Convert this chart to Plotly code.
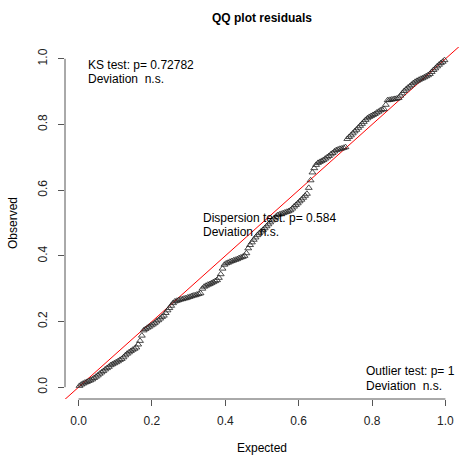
import numpy as np
import plotly.graph_objects as go

# Sorted scaled residuals (observed quantiles), 200 values
observed = [
    0.004, 0.008, 0.011, 0.014, 0.016, 0.019, 0.021, 0.024, 0.028, 0.032,
    0.036, 0.041, 0.045, 0.049, 0.054, 0.058, 0.062, 0.067, 0.070, 0.073,
    0.076, 0.079, 0.083, 0.086, 0.091, 0.097, 0.102, 0.106, 0.110, 0.114,
    0.117, 0.121, 0.130, 0.141, 0.157, 0.173, 0.177, 0.181, 0.184, 0.188,
    0.191, 0.195, 0.200, 0.204, 0.209, 0.214, 0.218, 0.226, 0.234, 0.241,
    0.248, 0.256, 0.261, 0.263, 0.265, 0.267, 0.268, 0.270, 0.271, 0.273,
    0.275, 0.277, 0.279, 0.280, 0.282, 0.284, 0.286, 0.300, 0.306, 0.309,
    0.312, 0.314, 0.317, 0.320, 0.323, 0.326, 0.333, 0.344, 0.361, 0.373,
    0.377, 0.379, 0.382, 0.384, 0.386, 0.388, 0.390, 0.393, 0.395, 0.397,
    0.400, 0.408, 0.423, 0.433, 0.441, 0.449, 0.456, 0.463, 0.469, 0.474,
    0.479, 0.484, 0.490, 0.496, 0.502, 0.508, 0.514, 0.519, 0.524, 0.526,
    0.528, 0.530, 0.532, 0.534, 0.536, 0.539, 0.544, 0.550, 0.555, 0.560,
    0.566, 0.571, 0.577, 0.583, 0.589, 0.607, 0.630, 0.654, 0.667, 0.677,
    0.683, 0.686, 0.689, 0.692, 0.696, 0.700, 0.704, 0.709, 0.713, 0.718,
    0.722, 0.724, 0.726, 0.727, 0.729, 0.731, 0.756, 0.762, 0.767, 0.773,
    0.779, 0.784, 0.790, 0.796, 0.802, 0.808, 0.814, 0.819, 0.823, 0.826,
    0.829, 0.832, 0.836, 0.839, 0.843, 0.845, 0.847, 0.860, 0.874, 0.875,
    0.876, 0.877, 0.878, 0.879, 0.881, 0.888, 0.895, 0.902, 0.907, 0.912,
    0.916, 0.921, 0.926, 0.930, 0.933, 0.936, 0.939, 0.941, 0.944, 0.947,
    0.950, 0.954, 0.960, 0.966, 0.971, 0.977, 0.982, 0.987, 0.991, 0.996,
]

# Expected uniform quantiles (plotting positions)
n = len(observed)
expected = (np.arange(1, n + 1) - 0.5) / n

tick_vals = [0.0, 0.2, 0.4, 0.6, 0.8, 1.0]
tick_text = ["0.0", "0.2", "0.4", "0.6", "0.8", "1.0"]

title_text = "QQ plot residuals"
x_label = "Expected"
y_label = "Observed"

ks_lines = ["KS test: p= 0.72782", "Deviation  n.s."]
disp_lines = ["Dispersion test: p= 0.584", "Deviation  n.s."]
outl_lines = ["Outlier test: p= 1", "Deviation  n.s."]

FONT = "Liberation Sans, Arial, sans-serif"
W, H = 465, 461
ML, MR, MT, MB = 65, 6, 47, 62
XR = [-0.037, 1.037]
YR = [-0.036, 1.036]

fig = go.Figure()

# 1:1 reference line across the plotting region
fig.add_trace(go.Scatter(
    x=[XR[0] - 0.1, XR[1] + 0.1], y=[XR[0] - 0.1, XR[1] + 0.1],
    mode="lines", line=dict(color="#ff0000", width=1),
    hoverinfo="skip", showlegend=False,
))

fig.add_trace(go.Scatter(
    x=expected, y=observed, mode="markers",
    marker=dict(symbol="triangle-up-open", size=6,
                color="#222222", line=dict(color="#222222", width=0.8)),
    showlegend=False,
))

axis_common = dict(
    showgrid=False, zeroline=False, showline=False,
    ticks="outside", ticklen=6, tickwidth=1, tickcolor="#555555",
    tickvals=tick_vals, ticktext=tick_text,
    tickfont=dict(family=FONT, size=12, color="#222222"),
)

fig.update_xaxes(range=XR, ticklabelstandoff=5, **axis_common)
fig.update_yaxes(range=YR, tickangle=-90, ticklabelstandoff=6, **axis_common)

# R-style axis lines spanning only the tick range
fig.add_shape(type="line", xref="paper", yref="y", x0=0, x1=0, y0=0, y1=1,
              line=dict(color="#555555", width=1))
fig.add_shape(type="line", xref="x", yref="paper", x0=0, x1=1, y0=0, y1=0,
              line=dict(color="#555555", width=1))

ann_font = dict(family=FONT, size=12, color="black")


def add_lines(lines, x, ys):
    for txt, y in zip(lines, ys):
        fig.add_annotation(x=x, y=y, xref="x", yref="y", text=txt,
                           showarrow=False, xanchor="left", yanchor="middle",
                           font=ann_font)


add_lines(ks_lines, 0.021, [0.982, 0.940])
add_lines(disp_lines, 0.333, [0.514, 0.473])
add_lines(outl_lines, 0.778, [0.049, 0.005])

plot_h = H - MT - MB
# axis titles and main title placed in paper coordinates
fig.add_annotation(x=0.5, y=(H - MB - 448) / plot_h, xref="paper", yref="paper",
                   text=x_label, showarrow=False, xanchor="center",
                   yanchor="middle", font=ann_font)
fig.add_annotation(x=(13 - ML) / (W - ML - MR), y=0.5, xref="paper", yref="paper",
                   text=y_label, showarrow=False, textangle=-90,
                   xanchor="center", yanchor="middle", font=ann_font)
fig.add_annotation(x=0.5, y=(H - MB - 18) / plot_h, xref="paper", yref="paper",
                   text="<b>" + title_text + "</b>", showarrow=False,
                   xanchor="center", yanchor="middle",
                   font=dict(family=FONT, size=12, color="black"))

fig.update_layout(
    width=W, height=H,
    margin=dict(l=ML, r=MR, t=MT, b=MB, pad=0),
    plot_bgcolor="white", paper_bgcolor="white",
    hovermode=False,
)

fig.write_html("out.html", config={"displayModeBar": False})
